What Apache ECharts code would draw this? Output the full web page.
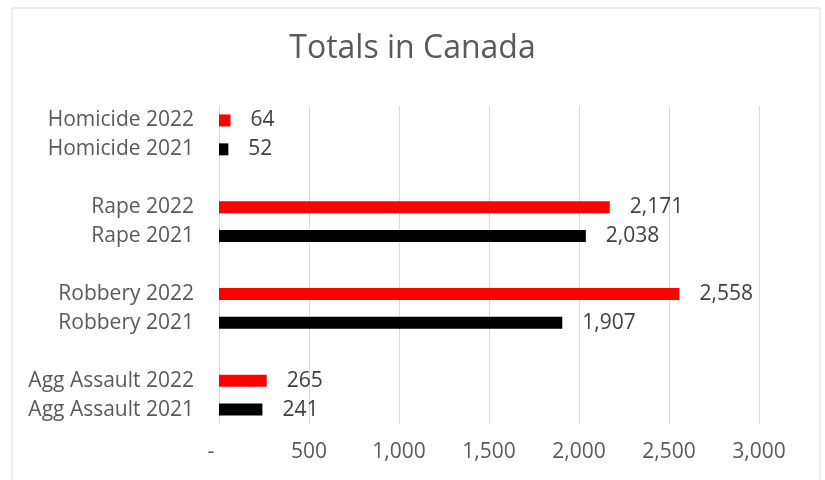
<!DOCTYPE html>
<html>
<head>
<meta charset="utf-8">
<script src="https://cdn.jsdelivr.net/npm/echarts@6/dist/echarts.min.js"></script>
<style>html,body{margin:0;padding:0;background:#fff}#c{width:825px;height:480px}</style>
</head>
<body>
<div id="c"></div>
<script>
var categories = ['Agg Assault 2021','Agg Assault 2022',' ','Robbery 2021','Robbery 2022','  ','Rape 2021','Rape 2022','   ','Homicide 2021','Homicide 2022'];
var values = [241, 265, null, 1907, 2558, null, 2038, 2171, null, 52, 64];
var xTicks = [0, 500, 1000, 1500, 2000, 2500, 3000];
var color2021 = '#000000';
var color2022 = '#ff0000';

var FONT = 'Open Sans';
var chart = echarts.init(document.getElementById('c'));
chart.setOption({
  animation: false,
  backgroundColor: '#fff',
  title: {
    text: 'Totals in Canada',
    left: 'center',
    top: 28,
    textStyle: { fontFamily: FONT, fontSize: 32, fontWeight: 'normal', color: '#595959' }
  },
  graphic: [{
    type: 'rect',
    shape: { x: 12, y: 8, width: 808, height: 490 },
    style: { fill: 'none', stroke: '#d9d9d9', lineWidth: 1 },
    silent: true
  }],
  grid: { left: 219, right: 66, top: 106, bottom: 56 },
  xAxis: {
    type: 'value',
    min: xTicks[0],
    max: xTicks[xTicks.length - 1],
    interval: 500,
    axisLine: { show: false },
    axisTick: { show: false },
    splitLine: { lineStyle: { color: '#d9d9d9', width: 1 } },
    axisLabel: {
      margin: 18,
      fontFamily: FONT, fontSize: 21, color: '#595959',
      formatter: function (v) { return v === 0 ? '-   ' : v.toLocaleString('en-US'); }
    }
  },
  yAxis: {
    type: 'category',
    data: categories,
    axisLine: { show: false },
    axisTick: { show: false },
    axisLabel: { margin: 25, fontFamily: FONT, fontSize: 21, color: '#595959' }
  },
  series: [{
    type: 'bar',
    barWidth: 12,
    data: values.map(function (v, i) {
      var c = categories[i].indexOf('2022') >= 0 ? color2022 : color2021;
      return { value: v, itemStyle: { color: c } };
    }),
    label: {
      show: true,
      position: 'right',
      distance: 20,
      fontFamily: FONT, fontSize: 21, color: '#404040',
      formatter: function (p) { return p.value == null ? '' : p.value.toLocaleString('en-US'); }
    }
  }]
});
</script>
</body>
</html>
